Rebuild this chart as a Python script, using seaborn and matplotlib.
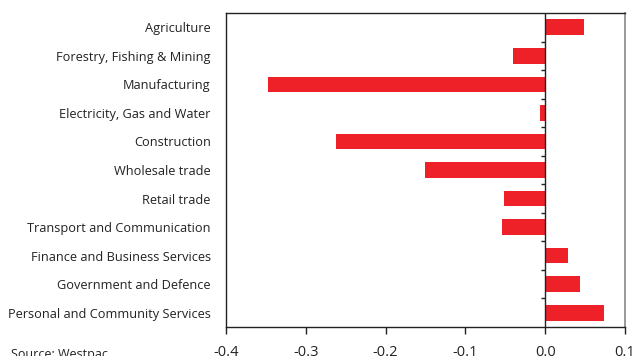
import matplotlib
matplotlib.use("Agg")
import matplotlib.pyplot as plt
import seaborn as sns
import pandas as pd
import numpy as np

categories = [
    "Agriculture",
    "Forestry, Fishing & Mining",
    "Manufacturing",
    "Electricity, Gas and Water",
    "Construction",
    "Wholesale trade",
    "Retail trade",
    "Transport and Communication",
    "Finance and Business Services",
    "Government and Defence",
    "Personal and Community Services",
]
values = [0.049, -0.040, -0.347, -0.006, -0.262, -0.151, -0.052, -0.054, 0.028, 0.044, 0.074]
xticks = [-0.4, -0.3, -0.2, -0.1, 0.0, 0.1]
xtick_labels = ["-0.4", "-0.3", "-0.2", "-0.1", "0.0", "0.1"]
source_text = "Source: Westpac"

sns.set_theme(style="white")
plt.rcParams["font.family"] = ["Open Sans", "DejaVu Sans"]

df = pd.DataFrame({"category": categories, "value": values})

fig = plt.figure(figsize=(6.32, 3.56), dpi=100)
ax = fig.add_axes([0.3576, 0.0815, 0.6314, 0.882])

sns.barplot(data=df, x="value", y="category", orient="h", color="#EE2028",
            saturation=1, width=0.55, ax=ax, edgecolor="none")

ax.set_xlim(-0.4, 0.1)
ax.set_ylim(len(categories) - 0.5, -0.5)
ax.set_xticks(xticks)
ax.set_xticklabels(xtick_labels, fontsize=10.5, color="#222222")
ax.set_xlabel("")
ax.set_ylabel("")
ax.tick_params(axis="x", direction="out", length=5, width=1, color="#222222", pad=8, bottom=True)
ax.tick_params(axis="y", length=0, pad=11, labelsize=9.15, labelcolor="#222222")

for side in ["left", "top", "bottom"]:
    ax.spines[side].set_color("#222222")
    ax.spines[side].set_linewidth(1)
ax.spines["right"].set_color("#888888")
ax.spines["right"].set_linewidth(1.2)

ax.axvline(0, color="#222222", lw=1, zorder=3)
bounds = np.arange(len(categories)) - 0.5
ax.hlines(bounds[1:], -0.005, 0, color="#222222", lw=1, zorder=3)

fig.text(0.018, 1 - 348 / 356, source_text, fontsize=9, color="#222222", va="top", ha="left")

fig.savefig("out.png", dpi=100)
